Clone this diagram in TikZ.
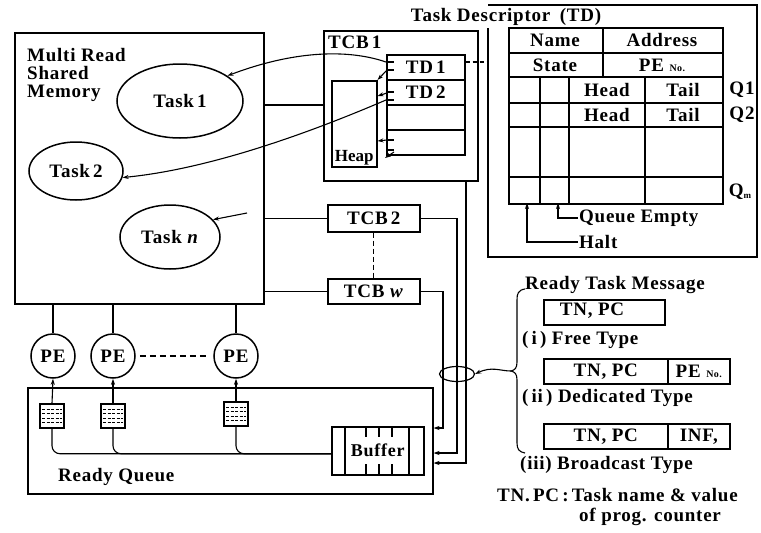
\documentclass[tikz,border=0pt]{standalone}
\usepackage{fontspec}
\setmainfont{Liberation Serif}[LetterSpace=4]
\usetikzlibrary{shapes.geometric,arrows.meta,calc}
\begin{document}
\begin{tikzpicture}[x=1pt,y=-1pt,
  >={Stealth[length=6pt,width=4pt]},
  every node/.style={font=\fontsize{19}{18.3}\selectfont\bfseries, inner sep=1pt},
  box/.style={draw, line width=1.5pt, inner sep=0pt, anchor=north west},
  conn/.style={line width=1.1pt},
  thickline/.style={line width=1.4pt},
  ell/.style={draw, ellipse, line width=1.5pt, inner sep=0pt},
  pe/.style={draw, circle, line width=1.5pt, minimum size=44pt, inner sep=0pt},
  lbl/.style={anchor=west},
  tight/.style={font=\fontsize{17}{18}\selectfont\bfseries\addfontfeature{LetterSpace=0}},
  qicon/.style={draw, line width=1.3pt, minimum width=24pt, minimum height=24pt, inner sep=0pt,
    path picture={\foreach \k in {-7,-2.5,2,6.5}{\draw[line width=0.9pt, dash pattern=on 3pt off 1.5pt]
      ($(path picture bounding box.center)+(-10,\k)$) -- ++(20,0);}}}
]
\useasboundingbox (0,0) rectangle (761,533);

% ---------- shared memory ----------
\node[box, minimum width=249pt, minimum height=271pt] (mem) at (14,32) {};
\node[anchor=north west, align=left] (memlbl) at (26,47) {Multi Read\\Shared\\Memory};
\node[ell, minimum width=126pt, minimum height=74pt] (t1) at (180,101) {Task\,1};
\node[ell, minimum width=94pt, minimum height=58pt] (t2) at (76,171) {Task\,2};
\node[ell, minimum width=100pt, minimum height=64pt] (tn) at (170,237) {Task \textit{n}};
\coordinate (tnsrc) at (247,213);
\draw[conn,->] (tnsrc) -- (tn.22);

% ---------- TCB 1 ----------
\node[box, minimum width=154pt, minimum height=150pt] (tcb1) at (323,30) {};
\node[anchor=base west] (tcb1lbl) at (327,48) {TCB\,1};
\node[box, minimum width=78pt, minimum height=25pt] (td1) at (386,54) {TD\,1};
\node[box, minimum width=78pt, minimum height=25pt] (td2) at (386,79) {TD\,2};
\node[box, minimum width=78pt, minimum height=25pt] (td3) at (386,104) {};
\node[box, minimum width=78pt, minimum height=25pt] (td4) at (386,129) {};
\node[box, minimum width=45pt, minimum height=86pt] (heap) at (331,80) {};
\node[anchor=south, tight] (heaplbl) at ($(heap.south)+(0,-1)$) {Heap};

% pointers inside TCB 1
\draw[conn] (387,62) -- (394,62);
\draw[conn] (387,70) -- (394,70);
\draw[conn,->] (387,70) -- (heap.north east);
\draw[conn] (387,92) -- (394,92);
\draw[conn] (387,100) -- (394,100);
\draw[conn,->] (387,93) -- (heap.east |- 0,96);
\draw[conn] (387,140) -- (394,140);
\draw[conn,->] (387,140) -- (heap.east |- 0,141);
\draw[conn] (387,150) -- (394,150);
\draw[conn,->] (394,152) -- (385,158);

% curves to tasks
\draw[conn,->] (td1.west |- 0,62) .. controls (345,48) and (290,52) .. (t1.28);
\draw[conn,->] (td2.west |- 0,100) .. controls (330,124) and (220,168) .. (t2.-8);

% ---------- Task descriptor ----------
\draw[thickline] (488,28) -- (488,257) -- (757,257) -- (757,5) -- (488,5);
\node (tdtitle) at (506,17) {Task Descriptor\enspace(TD)};
\draw[conn, dash pattern=on 4pt off 3pt] (td1.east |- 0,62) -- (488,62);

\node[box, minimum width=214pt, minimum height=176pt] (tdt) at (508,27) {};
\draw[thickline] (508,53) -- (722,53);
\draw[thickline] (508,77) -- (722,77);
\draw[thickline] (508,103) -- (722,103);
\draw[thickline] (508,127) -- (722,127);
\draw[thickline] (508,177) -- (722,177);
\draw[thickline] (603,27) -- (603,77);
\draw[thickline] (540,77) -- (540,203);
\draw[thickline] (569,77) -- (569,203);
\draw[thickline] (645,77) -- (645,203);
\node (cname) at (555,40) {Name};
\node (caddr) at (662,40) {Address};
\node (cstate) at (555,65) {State};
\node (cpeno) at (662,65) {PE {\fontsize{10}{11}\selectfont No.}};
\node (chead1) at (607,90) {Head};
\node (ctail1) at (683,90) {Tail};
\node (chead2) at (607,115) {Head};
\node (ctail2) at (683,115) {Tail};
\node (q1lbl) at (742,90) {Q1};
\node (q2lbl) at (742,115) {Q2};
\node (qmlbl) at (740,192) {Q\raisebox{-2pt}{\fontsize{9}{9}\selectfont m}};

\node[lbl] (qe) at (578,218) {Queue Empty};
\node[lbl] (halt) at (578,242) {Halt};
\draw[conn,->] (qe.west) -| (558,203);
\draw[conn,->] (halt.west) -| (527,203);

% ---------- TCB 2 / TCB w ----------
\node[box, minimum width=92pt, minimum height=27pt] (tcb2) at (327,204) {TCB\,2};
\node[box, minimum width=92pt, minimum height=25pt] (tcbw) at (327,278) {TCB \textit{w}};
\draw[conn, dash pattern=on 5pt off 3pt] (tcb2.south) -- (tcbw.north);

\draw[conn] (mem.east |- 0,105) -- (tcb1.west |- 0,105);
\draw[conn] (mem.east |- tcb2.west) -- (tcb2.west);
\draw[conn] (mem.east |- tcbw.west) -- (tcbw.west);

% ---------- PEs and ready queue ----------
\node[pe] (pe1) at (53,356) {PE};
\node[pe] (pe2) at (113,356) {PE};
\node[pe] (pe3) at (236,356) {PE};
\draw[conn] (pe1.north |- mem.south) -- (pe1.north);
\draw[conn] (pe2.north |- mem.south) -- (pe2.north);
\draw[conn] (pe3.north |- mem.south) -- (pe3.north);
\draw[conn, dash pattern=on 6pt off 4pt] ($(pe2.east)+(4,0)$) -- ($(pe3.west)+(-4,0)$);

\node[box, minimum width=405pt, minimum height=106pt] (rq) at (27,387) {};
\node[anchor=base west] (rqlbl) at (57,481) {Ready Queue};

\node[qicon] (q1) at (52,416) {};
\node[qicon] (q2) at (113,416) {};
\node[qicon] (q3) at (236,414) {};
\draw[conn,->] (q1.north) -- (pe1.south);
\draw[conn,->] (q2.north) -- (pe2.south);
\draw[conn,->] (q3.north) -- (pe3.south);

\node[box, minimum width=92pt, minimum height=48pt, tight, font=\fontsize{18}{18}\selectfont\bfseries] (buf) at (331,426) {Buffer};
\draw[conn] (345,426) -- (345,474);
\draw[conn] (409,426) -- (409,474);
\foreach \xx in {366,379,392}{
  \draw[conn] (\xx,426) -- (\xx,437);
  \draw[conn] (\xx,464) -- (\xx,474);
}
\draw[conn, rounded corners=8pt] (q1.south) |- ($(buf.west)+(0,3)$);
\draw[conn, rounded corners=8pt] (q2.south) |- ($(buf.west)+(0,3)$);
\draw[conn, rounded corners=8pt] (q3.south) |- ($(buf.west)+(0,3)$);

% ---------- TCB lines to buffer ----------
\draw[conn,->] (tcbw.east) -| (443,428) -- (rq.east |- 0,428);
\draw[conn,->] (tcb2.east) -| (457,453) -- (rq.east |- 0,453);
\draw[conn,->] (tcb1.south -| 466,0) -- (466,463) -- (rq.east |- 0,463);
\node[ell, line width=1.2pt, minimum width=35pt, minimum height=15pt] (bundle) at (457,374) {};

% ---------- ready task message ----------
\draw[conn] (525,289) .. controls (518,290) and (517,294) .. (517,300) -- (517,362)
  .. controls (517,368) and (515,370) .. (511,371) .. controls (515,372) and (517,374) .. (517,380)
  -- (517,443) .. controls (517,449) and (519,452) .. (525,453);
\coordinate (bracetip) at (511,371);
\draw[conn,->] (bracetip) .. controls (500,371) and (492,366) .. (bundle.east);

\node[lbl] (rtm) at (524,285) {Ready Task Message};
\node[box, minimum width=121pt, minimum height=25pt] (m1) at (543,299) {};
\node (m1t) at (592,311) {TN, PC};
\node[lbl] (m1l) at (521,340) {(\,i\,)\ Free Type};
\node[box, minimum width=124pt, minimum height=25pt] (m2a) at (543,358) {TN, PC};
\node[box, minimum width=62pt, minimum height=25pt] (m2b) at (667,358) {PE {\fontsize{10}{11}\selectfont No.}};
\node[lbl] (m2l) at (521,398) {(\,ii\,)\ Dedicated Type};
\node[box, minimum width=124pt, minimum height=25pt] (m3a) at (543,423) {TN, PC};
\node[box, minimum width=62pt, minimum height=25pt] (m3b) at (667,423) {INF,};
\node[lbl] (m3l) at (519,465) {(iii)\ Broadcast Type};
\node[lbl] (note1) at (496,495) {TN.\,PC\,:\,Task name \& value};
\node[lbl] (note2) at (578,517) {of prog. counter};
\end{tikzpicture}
\end{document}
